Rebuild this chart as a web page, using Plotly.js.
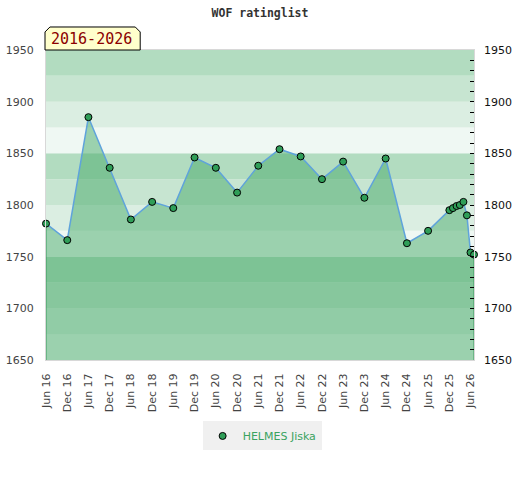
<!DOCTYPE html>
<html>
<head>
<meta charset="utf-8">
<script src="https://cdn.plot.ly/plotly-3.0.1.min.js"></script>
<style>html,body{margin:0;padding:0;background:#fff;}#chart{width:520px;height:480px;}</style>
</head>
<body>
<div id="chart"></div>
<script>
// ---- data ----
var playerName = "HELMES Jiska";
var chartTitle = "WOF ratinglist";
var periodLabel = "2016-2026";
var ratingDates = [
  "2016-06-01","2016-12-01","2017-06-01","2017-12-01","2018-06-01","2018-12-01",
  "2019-06-01","2019-12-01","2020-06-01","2020-12-01","2021-06-01","2021-12-01",
  "2022-06-01","2022-12-01","2023-06-01","2023-12-01","2024-06-01","2024-12-01",
  "2025-06-01","2025-12-01","2026-01-01","2026-02-01","2026-03-01","2026-04-01",
  "2026-05-01","2026-06-01","2026-07-01"
];
var ratingValues = [
  1782,1766,1885,1836,1786,1803,
  1797,1846,1836,1812,1838,1854,
  1847,1825,1842,1807,1845,1763,
  1775,1795,1797,1799,1800,1803,
  1790,1754,1752
];
var yRange = [1650, 1950];
var bandStep = 25;
var bandColors = ["#eff8f3", "#dbeee2", "#c7e5d1", "#b2dcc0"];

// ---- build ----
var n = ratingDates.length;
var shapes = [];
for (var lo = yRange[0], k = 0; lo < yRange[1]; lo += bandStep, k++) {
  shapes.push({type: "rect", xref: "paper", yref: "y", x0: 0, x1: 1, y0: lo, y1: lo + bandStep,
    fillcolor: bandColors[k % 4], line: {width: 0}, layer: "below"});
}
// label box with chamfered top corners (paper coords)
var bx0 = -0.0023, bx1 = 0.2201, by0 = 1.0, by1 = 1.0742, cx = 0.0115, cy = 0.016;
shapes.push({type: "path", xref: "paper", yref: "paper", layer: "above",
  path: "M" + bx0 + "," + by0 + " L" + bx0 + "," + (by1 - cy) + " L" + (bx0 + cx) + "," + by1 +
        " L" + (bx1 - cx) + "," + by1 + " L" + bx1 + "," + (by1 - cy) + " L" + bx1 + "," + by0 + " Z",
  fillcolor: "#ffffcc", line: {color: "#000", width: 1}});

var traces = [
  {x: ratingDates, y: ratingValues, type: "scatter", mode: "lines", fill: "tozeroy",
   fillcolor: "rgba(72,170,105,0.5)", line: {color: "#5fa3db", width: 1.5},
   showlegend: false, hoverinfo: "skip"},
  {x: [ratingDates[0], ratingDates[0]], y: [ratingValues[0], yRange[0]], type: "scatter", mode: "lines",
   line: {color: "#3a9a5c", width: 1}, showlegend: false, hoverinfo: "skip"},
  {x: [ratingDates[n - 1], ratingDates[n - 1]], y: [ratingValues[n - 1], yRange[0]], type: "scatter", mode: "lines",
   line: {color: "#3a9a5c", width: 1}, showlegend: false, hoverinfo: "skip"},
  {x: ratingDates, y: ratingValues, type: "scatter", mode: "markers", name: playerName, yaxis: "y2",
   marker: {size: 7, color: "#2f9e58", line: {color: "#000", width: 1}}, cliponaxis: false}
];

var tickFont = {family: "DejaVu Sans", size: 11, color: "#444"};
var layout = {
  width: 520, height: 480,
  margin: {l: 46, r: 46, t: 50, b: 120, pad: 0},
  paper_bgcolor: "#fff", plot_bgcolor: "rgba(0,0,0,0)",
  title: {text: chartTitle, font: {family: "DejaVu Sans Mono", size: 11.5, color: "#333", weight: "bold"},
          x: 0.5, xanchor: "center", y: 0.973, yanchor: "middle", yref: "container"},
  xaxis: {type: "date", range: [ratingDates[0], ratingDates[n - 1]], tick0: "2016-06-01", dtick: "M6",
          tickformat: "%b %y", tickangle: -90, ticks: "", tickfont: tickFont, ticklabelstandoff: 8,
          showgrid: false, zeroline: false, showline: true, linecolor: "#d8d8d8", linewidth: 1, mirror: true,
          fixedrange: true},
  yaxis: {range: yRange, dtick: 50, tick0: 1650, ticks: "", tickfont: tickFont, ticklabelstandoff: 9,
          showgrid: false, zeroline: false, showline: true, linecolor: "#d8d8d8", linewidth: 1, mirror: true},
  yaxis2: {range: yRange, overlaying: "y", side: "right", dtick: 50, tick0: 1650, ticks: "inside",
           ticklen: 4, tickcolor: "#000", tickwidth: 1, tickfont: {family: "DejaVu Sans", size: 11, color: "#111"},
           ticklabelstandoff: 9, showgrid: false, zeroline: false, showline: false,
           minor: {dtick: 10, ticks: "inside", ticklen: 4, tickcolor: "#000", tickwidth: 1, showgrid: false}},
  shapes: shapes,
  annotations: [{text: periodLabel, xref: "paper", yref: "paper", x: 0.1066, y: 1.036,
                 xanchor: "center", yanchor: "middle", showarrow: false,
                 font: {family: "DejaVu Sans Mono", size: 15, color: "#8b0000"}}],
  legend: {orientation: "h", x: 0.505, xanchor: "center", y: -0.245, yanchor: "middle",
           bgcolor: "#f0f0f0", font: {family: "DejaVu Sans", size: 11, color: "#3aa35f"}},
  showlegend: true
};
Plotly.newPlot("chart", traces, layout, {displayModeBar: false, staticPlot: true});
</script>
</body>
</html>
